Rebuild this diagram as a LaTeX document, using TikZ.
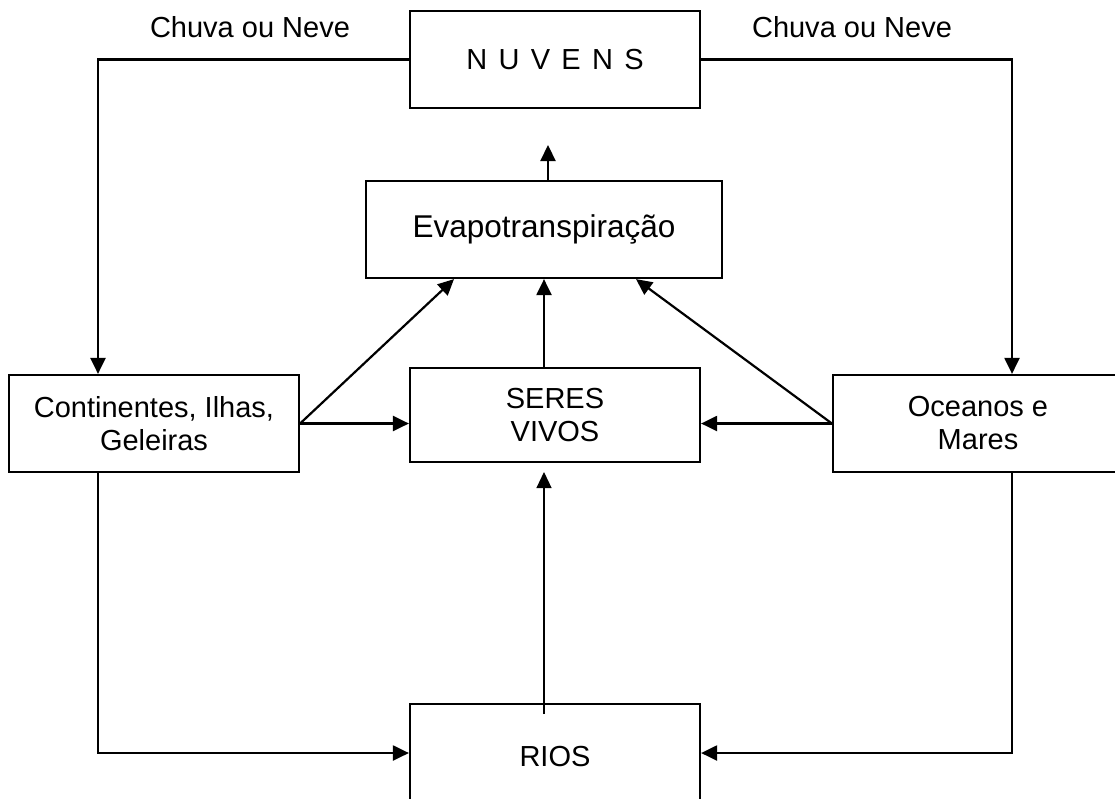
\documentclass[tikz,border=0pt]{standalone}
\usepackage{fontspec}
\setmainfont{Liberation Sans}
\newfontfamily\spacedfont[LetterSpace=39]{Liberation Sans}
\usetikzlibrary{arrows.meta}

\tikzset{
  box/.style={draw=black, line width=2.2pt, rectangle, inner sep=0pt,
    align=center, font=\fontsize{29}{33}\selectfont},
  link/.style={draw=black, line width=2.2pt},
  arr/.style={link, -{Triangle[length=16pt,width=15pt]}},
  thinarr/.style={draw=black, line width=1.2pt, -{Triangle[length=16pt,width=15pt]}},
  lbl/.style={font=\fontsize{29}{33}\selectfont, inner sep=0pt}
}

\begin{document}
\begin{tikzpicture}[x=1pt, y=-1pt]
  \useasboundingbox (0,0) rectangle (1115,798);

  % boxes
  \node[box, minimum width=290pt, minimum height=97pt] (nuv) at (555,59.5)
    {\spacedfont NUVENS};
  \node[box, minimum width=356pt, minimum height=97pt,
        font=\fontsize{31.5}{36}\selectfont] (evap) at (544,229.5)
    {Evapotranspiração};
  \node[box, minimum width=290pt, minimum height=97pt] (cont) at (154,423.5)
    {Continentes, Ilhas,\\Geleiras};
  \node[box, minimum width=290pt, minimum height=94pt] (seres) at (555,415)
    {SERES\\VIVOS};
  \node[box, minimum width=290pt, minimum height=97pt] (ocean) at (978,423.5)
    {Oceanos e\\Mares};
  \node[box, minimum width=290pt, minimum height=106pt] (rios) at (555,757)
    {RIOS};

  % labels
  \node[lbl] (chuvaL) at (250,27) {Chuva ou Neve};
  \node[lbl] (chuvaR) at (852,27) {Chuva ou Neve};

  % free ends
  \coordinate (vapor) at (548,145);
  \coordinate (riosup) at (544,714);
  \coordinate (seresbelow) at (544,472);

  % precipitation
  \draw[arr] (nuv.west) -| ([xshift=-56pt]cont.north);
  \draw[arr] (nuv.east) -| ([xshift=34pt]ocean.north);

  % evaporation
  \draw[arr] ([xshift=4pt]evap.north) -- (vapor);
  \draw[arr] (cont.east) -- ([xshift=-90pt]evap.south);
  \draw[arr] (ocean.west) -- ([xshift=92pt]evap.south);
  \draw[arr] (evap.south |- seres.north) -- (evap.south);

  % toward living beings
  \draw[arr] (cont.east) -- (cont.east -| seres.west);
  \draw[arr] (ocean.west) -- (ocean.west -| seres.east);
  \draw[thinarr] (riosup) -- (seresbelow);

  % runoff to rivers
  \draw[arr] ([xshift=-56pt]cont.south) |- ([yshift=4pt]rios.west);
  \draw[arr] ([xshift=34pt]ocean.south) |- ([yshift=4pt]rios.east);
\end{tikzpicture}
\end{document}
